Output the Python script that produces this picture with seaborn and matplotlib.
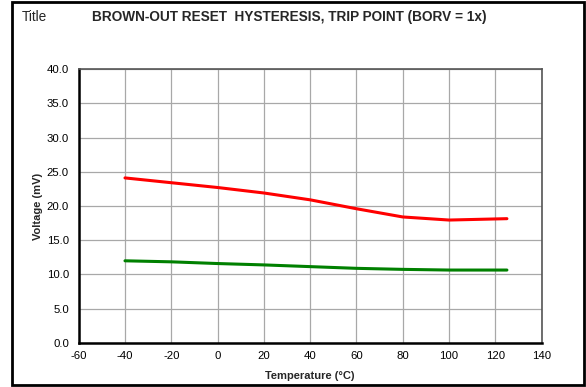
import matplotlib
matplotlib.use("Agg")
import matplotlib.pyplot as plt
import seaborn as sns
import pandas as pd
from matplotlib.patches import Rectangle

# values
temperature = [-40, -20, 0, 20, 40, 60, 80, 100, 125]
trip_high = [24.1, 23.4, 22.7, 21.9, 20.9, 19.6, 18.4, 17.95, 18.15]
trip_low = [12.0, 11.85, 11.6, 11.4, 11.15, 10.9, 10.75, 10.65, 10.65]
x_ticks = [-60, -40, -20, 0, 20, 40, 60, 80, 100, 120, 140]
y_ticks = [0, 5, 10, 15, 20, 25, 30, 35, 40]

sns.set_theme(style="white")
plt.rcParams['font.family'] = ['Liberation Sans', 'DejaVu Sans']
plt.rcParams['axes.unicode_minus'] = False

df = pd.DataFrame({
    "Temperature": temperature * 2,
    "Voltage": trip_high + trip_low,
    "Series": ["high"] * len(temperature) + ["low"] * len(temperature),
})

fig = plt.figure(figsize=(5.86, 3.87), dpi=100)
ax = fig.add_axes([0.1343, 0.1137, 0.790, 0.708])

sns.lineplot(data=df, x="Temperature", y="Voltage", hue="Series",
             palette={"high": "#ff0000", "low": "#008000"},
             linewidth=2.2, legend=False, ax=ax)

ax.set_xlim(-60, 140)
ax.set_ylim(0, 40)
ax.set_xticks(x_ticks)
ax.set_yticks(y_ticks)
ax.set_yticklabels([f"{v:.1f}" for v in y_ticks])
ax.grid(True, color="#a8a8a8", linewidth=0.9)
ax.set_axisbelow(True)
ax.tick_params(axis="both", labelsize=8.2, length=0, colors="black")
ax.tick_params(axis="y", pad=7)
ax.tick_params(axis="x", pad=6)
ax.set_xlabel("Temperature (°C)", fontsize=8, fontweight="bold", labelpad=7)
ax.set_ylabel("Voltage (mV)", fontsize=8, fontweight="bold", labelpad=3)

for side in ["left", "bottom"]:
    ax.spines[side].set_color("black")
    ax.spines[side].set_linewidth(1.8)
for side in ["top", "right"]:
    ax.spines[side].set_color("#555555")
    ax.spines[side].set_linewidth(1.2)

fig.text(22 / 586, 1 - 17 / 387, "Title", fontsize=9.8, va="center", ha="left")
fig.text(92 / 586, 1 - 17 / 387, "BROWN-OUT RESET  HYSTERESIS, TRIP POINT (BORV = 1x)",
         fontsize=9.8, fontweight="bold", va="center", ha="left")

fig.patches.append(Rectangle((12 / 586, 2 / 387), 572 / 586, 383 / 387,
                             transform=fig.transFigure, fill=False,
                             edgecolor="black", linewidth=2))

fig.savefig("out.png", dpi=100)
